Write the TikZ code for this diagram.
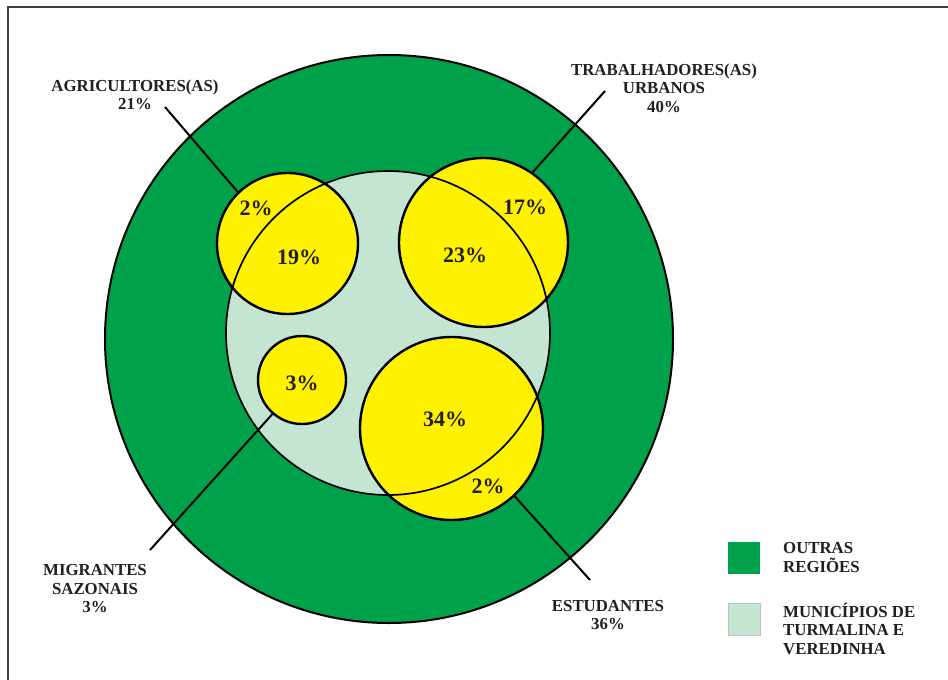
\documentclass[tikz,border=0pt]{standalone}
\usepackage{fontspec}
\setmainfont{Liberation Serif}
\definecolor{dgreen}{HTML}{00A14B}
\definecolor{lgreen}{HTML}{C3E5D1}
\definecolor{ylw}{HTML}{FFF200}
\definecolor{txt}{HTML}{231F20}
\begin{document}
\begin{tikzpicture}[x=1pt,y=-1pt,
  lab/.style={font=\bfseries\fontsize{16.8}{18.5}\selectfont, text=txt, align=center, inner sep=0pt},
  pct/.style={font=\bfseries\fontsize{22}{24}\selectfont, text=txt, inner sep=0pt},
  yc/.style={circle, draw=black, fill=ylw, line width=2.4pt, inner sep=0pt},
  leader/.style={draw=black, line width=2pt},
  leg/.style={font=\bfseries\fontsize{16.8}{18.5}\selectfont, text=txt, align=left, anchor=west, inner sep=0pt},
  legbox/.style={rectangle, minimum size=32pt, inner sep=0pt},
  frameline/.style={draw=black!75, line width=1.6pt}]
\useasboundingbox (0,0) rectangle (948,680);
\fill[white] (0,0) rectangle (948,680);
\draw[frameline] (8,680) -- (8,7) -- (948,7);
% circles
\node[circle, fill=dgreen, draw=black, line width=2pt, minimum size=568pt, inner sep=0pt] (outer) at (389,339) {};
\node[circle, fill=lgreen, minimum size=324pt, inner sep=0pt] (inner) at (388,333) {};
% leader ends
\coordinate (agriend) at (165,107);
\coordinate (trabend) at (605,91);
\coordinate (migrend) at (150,550);
\coordinate (estuend) at (590,580);
\node[yc, minimum size=141pt] (agri) at (287.5,243.5) {};
\node[yc, minimum size=169pt] (trab) at (483.5,242.5) {};
\node[yc, minimum size=88pt] (migr) at (302,380) {};
\node[yc, minimum size=183pt] (estu) at (451.5,428.5) {};
\draw[line width=1.7pt] (inner) circle[radius=162pt];
\draw[leader] (agriend) -- (agri.134);
\draw[leader] (trabend) -- (trab.55);
\draw[leader] (migrend) -- (migr.229);
\draw[leader] (estuend) -- (estu.-47);
% percentages
\node[pct] (p1) at (256,208) {2\%};
\node[pct] (p2) at (299,257) {19\%};
\node[pct] (p3) at (525,207) {17\%};
\node[pct] (p4) at (465,255) {23\%};
\node[pct] (p5) at (302,383) {3\%};
\node[pct] (p6) at (445,419) {34\%};
\node[pct] (p7) at (488,486) {2\%};
% labels
\node[lab] (lagri) at (135,95) {AGRICULTORES(AS)\\21\%};
\node[lab] (ltrab) at (664,88) {TRABALHADORES(AS)\\URBANOS\\40\%};
\node[lab] (lmigr) at (95,589) {MIGRANTES\\SAZONAIS\\3\%};
\node[lab] (lestu) at (608,615) {ESTUDANTES\\36\%};
% legend
\node[legbox, fill=dgreen] (k1) at (744,557.5) {};
\node[legbox, fill=lgreen, draw=black!25, line width=0.6pt] (k2) at (744,619) {};
\node[leg] (t1) at (783,557.5) {OUTRAS\\REGIÕES};
\node[leg] (t2) at (783,628.5) {MUNICÍPIOS DE\\TURMALINA E\\VEREDINHA};
\end{tikzpicture}
\end{document}
